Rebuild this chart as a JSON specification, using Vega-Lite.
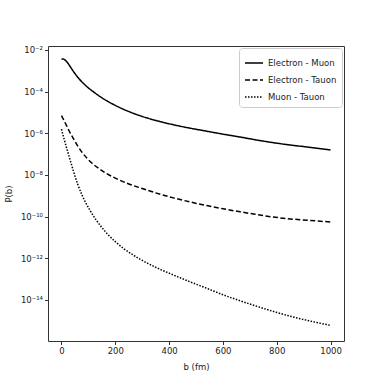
{
  "$schema": "https://vega.github.io/schema/vega-lite/v6.json",
  "width": 296,
  "height": 295,
  "autosize": {"type": "none"},
  "padding": {"left": 48, "top": 46, "right": 38, "bottom": 41},
  "background": "white",
  "config": {
    "view": {"stroke": "#333", "strokeWidth": 1},
    "font": "DejaVu Sans",
    "axis": {
      "grid": false,
      "domain": false,
      "tickColor": "#333",
      "tickSize": 3.5,
      "labelColor": "#222",
      "labelFontSize": 8.5,
      "labelPadding": 2,
      "titleColor": "#222",
      "titleFontSize": 8.5,
      "titleFontWeight": "normal"
    }
  },
  "data": {
    "values": [
      {"pair": "Electron - Muon", "b": 0, "P": 3.72e-3},
      {"pair": "Electron - Muon", "b": 8, "P": 3.63e-3},
      {"pair": "Electron - Muon", "b": 15, "P": 3.16e-3},
      {"pair": "Electron - Muon", "b": 25, "P": 2.24e-3},
      {"pair": "Electron - Muon", "b": 35, "P": 1.41e-3},
      {"pair": "Electron - Muon", "b": 50, "P": 7.41e-4},
      {"pair": "Electron - Muon", "b": 65, "P": 4.17e-4},
      {"pair": "Electron - Muon", "b": 83, "P": 2.40e-4},
      {"pair": "Electron - Muon", "b": 100, "P": 1.51e-4},
      {"pair": "Electron - Muon", "b": 120, "P": 9.55e-5},
      {"pair": "Electron - Muon", "b": 145, "P": 5.62e-5},
      {"pair": "Electron - Muon", "b": 170, "P": 3.55e-5},
      {"pair": "Electron - Muon", "b": 200, "P": 2.19e-5},
      {"pair": "Electron - Muon", "b": 231, "P": 1.41e-5},
      {"pair": "Electron - Muon", "b": 265, "P": 9.33e-6},
      {"pair": "Electron - Muon", "b": 293, "P": 6.92e-6},
      {"pair": "Electron - Muon", "b": 330, "P": 4.90e-6},
      {"pair": "Electron - Muon", "b": 370, "P": 3.55e-6},
      {"pair": "Electron - Muon", "b": 416, "P": 2.57e-6},
      {"pair": "Electron - Muon", "b": 480, "P": 1.74e-6},
      {"pair": "Electron - Muon", "b": 540, "P": 1.26e-6},
      {"pair": "Electron - Muon", "b": 600, "P": 9.12e-7},
      {"pair": "Electron - Muon", "b": 664, "P": 6.61e-7},
      {"pair": "Electron - Muon", "b": 720, "P": 4.90e-7},
      {"pair": "Electron - Muon", "b": 787, "P": 3.55e-7},
      {"pair": "Electron - Muon", "b": 850, "P": 2.75e-7},
      {"pair": "Electron - Muon", "b": 920, "P": 2.14e-7},
      {"pair": "Electron - Muon", "b": 1000, "P": 1.58e-7},
      {"pair": "Electron - Tauon", "b": 0, "P": 7.08e-6},
      {"pair": "Electron - Tauon", "b": 10, "P": 3.98e-6},
      {"pair": "Electron - Tauon", "b": 20, "P": 2.19e-6},
      {"pair": "Electron - Tauon", "b": 30, "P": 1.20e-6},
      {"pair": "Electron - Tauon", "b": 45, "P": 5.37e-7},
      {"pair": "Electron - Tauon", "b": 60, "P": 2.51e-7},
      {"pair": "Electron - Tauon", "b": 77, "P": 1.20e-7},
      {"pair": "Electron - Tauon", "b": 95, "P": 6.31e-8},
      {"pair": "Electron - Tauon", "b": 114, "P": 3.63e-8},
      {"pair": "Electron - Tauon", "b": 140, "P": 2.0e-8},
      {"pair": "Electron - Tauon", "b": 163, "P": 1.26e-8},
      {"pair": "Electron - Tauon", "b": 195, "P": 7.59e-9},
      {"pair": "Electron - Tauon", "b": 231, "P": 4.68e-9},
      {"pair": "Electron - Tauon", "b": 265, "P": 3.16e-9},
      {"pair": "Electron - Tauon", "b": 293, "P": 2.40e-9},
      {"pair": "Electron - Tauon", "b": 350, "P": 1.38e-9},
      {"pair": "Electron - Tauon", "b": 416, "P": 7.94e-10},
      {"pair": "Electron - Tauon", "b": 480, "P": 5.01e-10},
      {"pair": "Electron - Tauon", "b": 540, "P": 3.39e-10},
      {"pair": "Electron - Tauon", "b": 600, "P": 2.40e-10},
      {"pair": "Electron - Tauon", "b": 664, "P": 1.70e-10},
      {"pair": "Electron - Tauon", "b": 720, "P": 1.29e-10},
      {"pair": "Electron - Tauon", "b": 787, "P": 9.55e-11},
      {"pair": "Electron - Tauon", "b": 850, "P": 7.76e-11},
      {"pair": "Electron - Tauon", "b": 920, "P": 6.61e-11},
      {"pair": "Electron - Tauon", "b": 1000, "P": 5.50e-11},
      {"pair": "Muon - Tauon", "b": 0, "P": 1.58e-6},
      {"pair": "Muon - Tauon", "b": 10, "P": 5.25e-7},
      {"pair": "Muon - Tauon", "b": 20, "P": 1.82e-7},
      {"pair": "Muon - Tauon", "b": 30, "P": 6.61e-8},
      {"pair": "Muon - Tauon", "b": 46, "P": 1.32e-8},
      {"pair": "Muon - Tauon", "b": 60, "P": 3.72e-9},
      {"pair": "Muon - Tauon", "b": 77, "P": 1.05e-9},
      {"pair": "Muon - Tauon", "b": 90, "P": 4.68e-10},
      {"pair": "Muon - Tauon", "b": 107, "P": 1.91e-10},
      {"pair": "Muon - Tauon", "b": 130, "P": 6.61e-11},
      {"pair": "Muon - Tauon", "b": 150, "P": 3.02e-11},
      {"pair": "Muon - Tauon", "b": 170, "P": 1.51e-11},
      {"pair": "Muon - Tauon", "b": 200, "P": 6.31e-12},
      {"pair": "Muon - Tauon", "b": 231, "P": 2.95e-12},
      {"pair": "Muon - Tauon", "b": 265, "P": 1.48e-12},
      {"pair": "Muon - Tauon", "b": 293, "P": 8.91e-13},
      {"pair": "Muon - Tauon", "b": 350, "P": 3.72e-13},
      {"pair": "Muon - Tauon", "b": 416, "P": 1.58e-13},
      {"pair": "Muon - Tauon", "b": 480, "P": 7.24e-14},
      {"pair": "Muon - Tauon", "b": 540, "P": 3.63e-14},
      {"pair": "Muon - Tauon", "b": 600, "P": 1.78e-14},
      {"pair": "Muon - Tauon", "b": 664, "P": 9.12e-15},
      {"pair": "Muon - Tauon", "b": 720, "P": 5.25e-15},
      {"pair": "Muon - Tauon", "b": 787, "P": 2.82e-15},
      {"pair": "Muon - Tauon", "b": 850, "P": 1.66e-15},
      {"pair": "Muon - Tauon", "b": 920, "P": 1.0e-15},
      {"pair": "Muon - Tauon", "b": 1000, "P": 6.03e-16}
    ]
  },
  "mark": {"type": "line", "color": "black", "strokeWidth": 1.5, "interpolate": "monotone", "clip": true},
  "encoding": {
    "x": {
      "field": "b",
      "type": "quantitative",
      "scale": {"domain": [-50, 1050], "nice": false, "zero": false},
      "axis": {"values": [0, 200, 400, 600, 800, 1000], "format": "d", "title": "b (fm)", "titlePadding": 7}
    },
    "y": {
      "field": "P",
      "type": "quantitative",
      "scale": {"type": "log", "domain": [1.07e-16, 1.55e-2], "nice": false},
      "axis": {
        "values": [1e-14, 1e-12, 1e-10, 1e-8, 1e-6, 1e-4, 1e-2],
        "labelExpr": "'10' + ['⁰','⁻¹','⁻²','⁻³','⁻⁴','⁻⁵','⁻⁶','⁻⁷','⁻⁸','⁻⁹','⁻¹⁰','⁻¹¹','⁻¹²','⁻¹³','⁻¹⁴','⁻¹⁵','⁻¹⁶'][round(-log(datum.value)/LN10)]",
        "title": "P(b)",
        "titlePadding": 7
      }
    },
    "strokeDash": {
      "field": "pair",
      "type": "nominal",
      "scale": {
        "domain": ["Electron - Muon", "Electron - Tauon", "Muon - Tauon"],
        "range": [[1, 0], [5, 2.5], [1.5, 1.5]]
      },
      "legend": {
        "title": null,
        "orient": "top-right",
        "offset": 2,
        "padding": 5,
        "strokeColor": "#ccc",
        "fillColor": "white",
        "cornerRadius": 3,
        "symbolType": "stroke",
        "symbolStrokeColor": "black",
        "symbolStrokeWidth": 1.5,
        "symbolSize": 324,
        "labelFontSize": 8.5,
        "labelColor": "#222",
        "rowPadding": 2
      }
    }
  }
}
